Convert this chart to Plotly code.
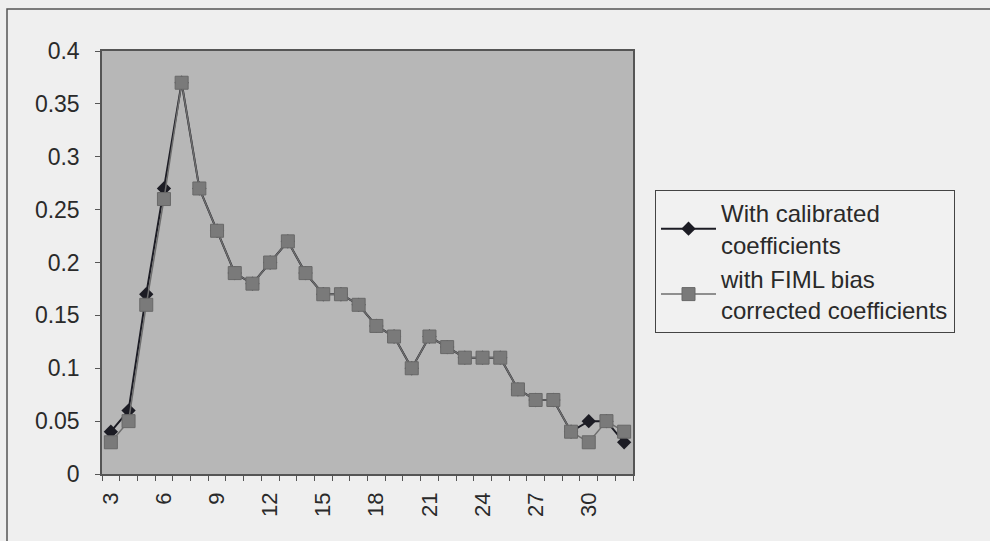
import plotly.graph_objects as go

categories = list(range(3, 33))
calibrated = [0.04, 0.06, 0.17, 0.27, 0.37, 0.27, 0.23, 0.19, 0.18, 0.20,
              0.22, 0.19, 0.17, 0.17, 0.16, 0.14, 0.13, 0.10, 0.13, 0.12,
              0.11, 0.11, 0.11, 0.08, 0.07, 0.07, 0.04, 0.05, 0.05, 0.03]
fiml = [0.03, 0.05, 0.16, 0.26, 0.37, 0.27, 0.23, 0.19, 0.18, 0.20,
        0.22, 0.19, 0.17, 0.17, 0.16, 0.14, 0.13, 0.10, 0.13, 0.12,
        0.11, 0.11, 0.11, 0.08, 0.07, 0.07, 0.04, 0.03, 0.05, 0.04]
x_tick_labels = [str(v) for v in range(3, 31, 3)]
y_ticks = [0, 0.05, 0.1, 0.15, 0.2, 0.25, 0.3, 0.35, 0.4]
y_tick_labels = ["0", "0.05", "0.1", "0.15", "0.2", "0.25", "0.3", "0.35", "0.4"]

FONT = "Liberation Sans, Arial, sans-serif"

fig = go.Figure()
fig.add_trace(go.Scatter(
    x=categories, y=calibrated, mode="lines+markers",
    name="With calibrated<br>coefficients",
    line=dict(color="#1c1c24", width=2),
    marker=dict(symbol="diamond", size=11, color="#1c1c24"),
))
fig.add_trace(go.Scatter(
    x=categories, y=fiml, mode="lines+markers",
    name="with FIML bias<br>corrected coefficients",
    line=dict(color="#6e6e6e", width=1.5),
    marker=dict(symbol="square", size=13, color="#7a7a7a",
                line=dict(color="#686868", width=1)),
))

fig.update_layout(
    width=990, height=541,
    margin=dict(l=102, r=357, t=51, b=67),
    paper_bgcolor="#efefef",
    plot_bgcolor="#b7b7b7",
    font=dict(family=FONT, size=22, color="#2a2a2a"),
    showlegend=True,
    legend=dict(
        x=(655 - 102) / 531, xanchor="left",
        y=(474 - 190) / 423, yanchor="top",
        bgcolor="#f1f1f1", bordercolor="#444444", borderwidth=1,
        font=dict(family=FONT, size=24, color="#2a2a2a"),
        itemwidth=55,
    ),
    xaxis=dict(
        range=[2.5, 32.5],
        tickmode="array",
        tickvals=[int(t) for t in x_tick_labels],
        ticktext=x_tick_labels,
        tickangle=-90,
        ticks="",
        ticklabelstandoff=8,
        showgrid=False, zeroline=False,
        showline=True, linecolor="#555555", linewidth=1.5, mirror=True,
        tickfont=dict(size=22),
        minor=dict(tickvals=[c - 0.5 for c in categories] + [32.5],
                   ticks="outside", ticklen=5, tickcolor="#555555", tickwidth=1),
    ),
    yaxis=dict(
        range=[0, 0.4],
        tickmode="array",
        tickvals=y_ticks,
        ticktext=y_tick_labels,
        ticks="outside", ticklen=5, tickcolor="#555555",
        ticklabelstandoff=11,
        showgrid=False, zeroline=False,
        showline=True, linecolor="#555555", linewidth=1.5, mirror=True,
        tickfont=dict(size=23),
    ),
    shapes=[dict(
        type="rect", xref="paper", yref="paper",
        x0=(7 - 102) / 531, x1=(1200 - 102) / 531,
        y0=(474 - 700) / 423, y1=(474 - 9) / 423,
        line=dict(color="#555555", width=1.5),
        fillcolor="rgba(0,0,0,0)", layer="below",
    )],
)

fig.write_html(
    "out.html",
    config={"displayModeBar": False},
    post_script="document.body.style.margin='0';document.body.style.overflow='hidden';",
)
